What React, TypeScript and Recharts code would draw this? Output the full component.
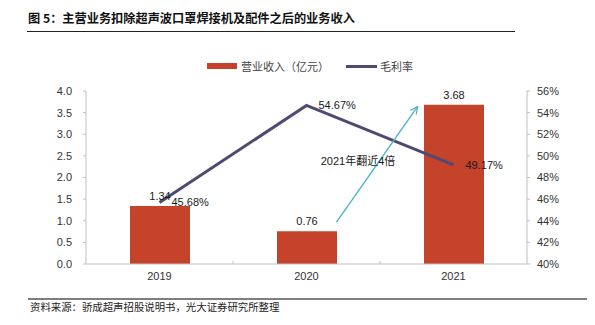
import React from 'react';
import { ComposedChart, Bar, Line, XAxis, YAxis, LabelList } from 'recharts';

const years = ['2019', '2020', '2021'];
const revenue = [1.34, 0.76, 3.68];
const grossMargin = [45.68, 54.67, 49.17];
const revenueTicks = [0, 0.5, 1, 1.5, 2, 2.5, 3, 3.5, 4];
const marginTicks = [40, 42, 44, 46, 48, 50, 52, 54, 56];

const data = years.map((year, i) => ({ year, revenue: revenue[i], margin: grossMargin[i] }));

const BAR = '#c4432a';
const LINE = '#4f4a72';
const ARROW = '#4bb3d0';
const AXIS = '#c0c0c0';
const FONT = '"Liberation Sans", Arial, "Noto Sans CJK SC", sans-serif';
const CJK = '"Noto Sans CJK SC", "Liberation Sans", sans-serif';

// plot box, used only for the annotation arrow
const PLOT = { left: 86, right: 527, top: 91, bottom: 264 };
const band = (PLOT.right - PLOT.left) / years.length;
const xMid = (i: number) => PLOT.left + band * (i + 0.5);
const yRev = (v: number) => PLOT.bottom - (v / 4) * (PLOT.bottom - PLOT.top);

const MarginLabel = (props: any) => {
  const { x, y, value } = props;
  return (
    <text x={x + 12} y={y} dy="0.35em" fontSize={11} fill="#1a1a1a" textAnchor="start">
      {`${Number(value).toFixed(2)}%`}
    </text>
  );
};

export default function App() {
  const ax0 = xMid(1) + 30;
  const ay0 = yRev(0.97);
  const ax1 = xMid(2) - 36;
  const ay1 = yRev(3.64);

  return (
    <div style={{ position: 'absolute', left: 0, top: 0, width: 595, height: 325, background: '#fff', fontFamily: FONT }}>
      <div
        style={{
          position: 'absolute', left: 28, top: 11, fontSize: 12.2, lineHeight: '14px',
          fontWeight: 700, fontFamily: CJK, color: '#111', whiteSpace: 'nowrap',
        }}
      >
        图 5：主营业务扣除超声波口罩焊接机及配件之后的业务收入
      </div>
      <div style={{ position: 'absolute', left: 27, top: 31, width: 488, height: 1, background: '#222' }} />

      {/* legend */}
      <div style={{ position: 'absolute', left: 207, top: 63, width: 30, height: 6, background: BAR }} />
      <div style={{ position: 'absolute', left: 241, top: 59, fontSize: 11, lineHeight: '14px', fontFamily: CJK, color: '#444', whiteSpace: 'nowrap' }}>
        营业收入（亿元）
      </div>
      <div style={{ position: 'absolute', left: 346, top: 64.5, width: 31, height: 3, background: LINE }} />
      <div style={{ position: 'absolute', left: 380, top: 59, fontSize: 11, lineHeight: '14px', fontFamily: CJK, color: '#444', whiteSpace: 'nowrap' }}>
        毛利率
      </div>

      <div style={{ position: 'absolute', left: 0, top: 0 }}>
        <ComposedChart width={595} height={325} data={data} margin={{ top: 91, right: 0, bottom: 0, left: 0 }}>
          <XAxis
            dataKey="year"
            height={61}
            axisLine={{ stroke: AXIS }}
            tickLine={false}
            tickSize={4}
            tickMargin={4}
            tick={{ fontSize: 11, fill: '#333' }}
          />
          <YAxis
            yAxisId="left"
            width={86}
            domain={[0, 4]}
            ticks={revenueTicks}
            tickFormatter={(v: number) => v.toFixed(1)}
            axisLine={{ stroke: AXIS }}
            tickLine={{ stroke: AXIS }}
            tickSize={3}
            tickMargin={11}
            tick={{ fontSize: 11, fill: '#333' }}
          />
          <YAxis
            yAxisId="right"
            orientation="right"
            width={68}
            domain={[40, 56]}
            ticks={marginTicks}
            tickFormatter={(v: number) => `${v}%`}
            axisLine={{ stroke: AXIS }}
            tickLine={{ stroke: AXIS }}
            tickSize={3}
            tickMargin={7}
            tick={{ fontSize: 11, fill: '#333' }}
          />
          <Bar yAxisId="left" dataKey="revenue" fill={BAR} barSize={60} isAnimationActive={false}>
            <LabelList dataKey="revenue" position="top" offset={6} fontSize={11} fill="#1a1a1a" formatter={(v: any) => Number(v).toFixed(2)} />
          </Bar>
          <Line
            yAxisId="right"
            type="linear"
            dataKey="margin"
            stroke={LINE}
            strokeWidth={3}
            dot={false}
            isAnimationActive={false}
          >
            <LabelList dataKey="margin" content={MarginLabel} />
          </Line>
        </ComposedChart>
      </div>

      <svg width={595} height={325} style={{ position: 'absolute', left: 0, top: 0, pointerEvents: 'none' }}>
        <defs>
          <marker id="head" viewBox="0 0 10 10" refX="9" refY="5" markerWidth="9" markerHeight="9" orient="auto" markerUnits="userSpaceOnUse">
            <path d="M1,1 L9,5 L1,9" fill="none" stroke={ARROW} strokeWidth={1.4} />
          </marker>
        </defs>
        <line x1={ax0} y1={ay0} x2={ax1} y2={ay1} stroke={ARROW} strokeWidth={1.4} markerEnd="url(#head)" />
        {/* small ticks between categories on the x axis */}
        {[1, 2].map((i) => (
          <line key={i} x1={PLOT.left + band * i} y1={PLOT.bottom} x2={PLOT.left + band * i} y2={PLOT.bottom - 3} stroke={AXIS} />
        ))}
        <text x={358} y={161} dy="0.35em" textAnchor="middle" fontSize={11} fill="#1a1a1a" fontFamily={FONT}>
          2021年翻近4倍
        </text>
        <line x1={28} y1={299} x2={587} y2={299} stroke="#555" strokeWidth={1.5} />
        <text x={30} y={307} dy="0.35em" fontSize={10.4} fill="#222" fontFamily={CJK}>
          资料来源：骄成超声招股说明书，光大证券研究所整理
        </text>
      </svg>
    </div>
  );
}
